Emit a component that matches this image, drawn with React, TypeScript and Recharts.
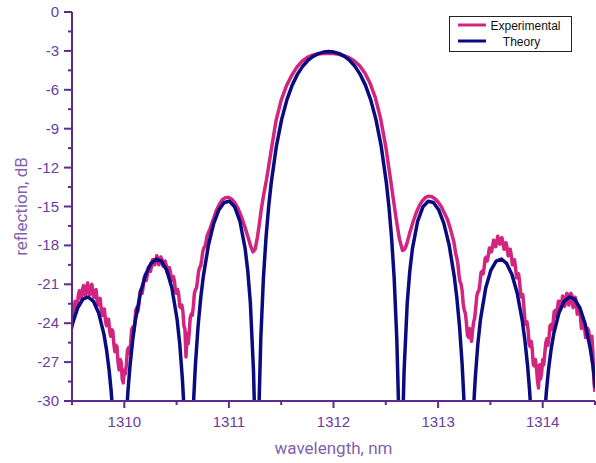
import React from 'react';
import { LineChart, Line, XAxis, YAxis, Label } from 'recharts';

const theoryWl = [
  1309.455, 1309.505, 1309.555, 1309.605, 1309.655, 1309.705, 1309.755, 1309.805, 1309.83, 1309.855,
  1309.875, 1309.895, 1309.915, 1310.015, 1310.035, 1310.055, 1310.08, 1310.105, 1310.155, 1310.205,
  1310.255, 1310.305, 1310.355, 1310.405, 1310.455, 1310.505, 1310.53, 1310.555, 1310.565, 1310.575,
  1310.585, 1310.655, 1310.665, 1310.68, 1310.705, 1310.73, 1310.755, 1310.805, 1310.855, 1310.905,
  1310.955, 1311.005, 1311.055, 1311.105, 1311.155, 1311.18, 1311.205, 1311.235, 1311.245, 1311.255,
  1311.28, 1311.29, 1311.305, 1311.33, 1311.355, 1311.38, 1311.405, 1311.455, 1311.505, 1311.555,
  1311.605, 1311.655, 1311.705, 1311.755, 1311.805, 1311.855, 1311.905, 1311.955,
  1312.005, 1312.055, 1312.105, 1312.155, 1312.205, 1312.255, 1312.305, 1312.355, 1312.405, 1312.455,
  1312.505, 1312.53, 1312.555, 1312.58, 1312.605, 1312.62, 1312.63, 1312.655, 1312.665, 1312.675,
  1312.705, 1312.73, 1312.755, 1312.805, 1312.855, 1312.905, 1312.955, 1313.005, 1313.055, 1313.105,
  1313.155, 1313.18, 1313.205, 1313.23, 1313.245, 1313.255, 1313.325, 1313.335, 1313.345, 1313.355,
  1313.38, 1313.405, 1313.455, 1313.505, 1313.555, 1313.605, 1313.655, 1313.705, 1313.755, 1313.805,
  1313.83, 1313.855, 1313.875, 1313.895, 1313.995, 1314.015, 1314.035, 1314.055, 1314.08, 1314.105,
  1314.155, 1314.205, 1314.255, 1314.305, 1314.355, 1314.405, 1314.455, 1314.48, 1314.505,
];

const theoryDb = [
  -25.96, -24.03, -22.81, -22.15, -21.98, -22.31, -23.21, -24.84, -26.04, -27.63,
  -29.29, -31.5, -34.6, -31.85, -29.23, -27.24, -25.33, -23.82, -21.63, -20.23,
  -19.39, -19.05, -19.21, -19.9, -21.29, -23.72, -25.59, -28.27, -29.7, -31.47,
  -33.8, -31.63, -29.59, -27.19, -24.26, -22.1, -20.41, -17.95, -16.3, -15.25,
  -14.69, -14.6, -15.03, -16.12, -18.23, -19.93, -22.41, -27.65, -30.74, -35.86,
  -34.8, -29.7, -25.18, -20.51, -17.38, -15.02, -13.15, -10.3, -8.26, -6.76,
  -5.64, -4.81, -4.19, -3.74, -3.42, -3.21, -3.09, -3.05,
  -3.09, -3.21, -3.42, -3.74, -4.19, -4.81, -5.64, -6.76, -8.26, -10.3,
  -13.15, -15.02, -17.38, -20.51, -25.18, -29.7, -34.8, -35.86, -30.74, -27.65,
  -22.41, -19.93, -18.23, -16.12, -15.03, -14.6, -14.69, -15.25, -16.3, -17.95,
  -20.41, -22.1, -24.26, -27.19, -29.59, -31.63, -33.8, -31.47, -29.7, -28.27,
  -25.59, -23.72, -21.29, -19.9, -19.21, -19.05, -19.39, -20.23, -21.63, -23.82,
  -25.33, -27.24, -29.23, -31.85, -34.6, -31.5, -29.29, -27.63, -26.04, -24.84,
  -23.21, -22.31, -21.98, -22.15, -22.81, -24.03, -25.96, -27.3, -29.0,
];

// Experimental: noisy left part
const expLeftWl = [
  1309.5, 1309.51, 1309.52, 1309.53, 1309.54, 1309.55, 1309.56, 1309.57, 1309.58, 1309.59,
  1309.6, 1309.61, 1309.62, 1309.63, 1309.64, 1309.65, 1309.66, 1309.67, 1309.68, 1309.69,
  1309.7, 1309.71, 1309.72, 1309.73, 1309.74, 1309.75, 1309.76, 1309.77, 1309.78, 1309.79,
  1309.8, 1309.81, 1309.82, 1309.83, 1309.84, 1309.85, 1309.86, 1309.87, 1309.88, 1309.89,
  1309.9, 1309.91, 1309.92, 1309.93, 1309.94, 1309.95, 1309.96, 1309.97, 1309.98, 1309.99,
  1310.0, 1310.01, 1310.02, 1310.03, 1310.04, 1310.05, 1310.06, 1310.07, 1310.08, 1310.09,
  1310.1, 1310.11, 1310.12, 1310.13, 1310.14, 1310.15, 1310.16, 1310.17, 1310.18, 1310.19,
  1310.2, 1310.21, 1310.22, 1310.23, 1310.24, 1310.25, 1310.26, 1310.27, 1310.28, 1310.29,
  1310.3, 1310.31, 1310.32, 1310.33, 1310.34, 1310.35, 1310.36, 1310.37, 1310.38, 1310.39,
  1310.4, 1310.41, 1310.42, 1310.43, 1310.44, 1310.45, 1310.46, 1310.47, 1310.48, 1310.49,
  1310.5, 1310.51, 1310.52, 1310.53, 1310.54, 1310.55, 1310.56, 1310.57, 1310.58, 1310.59,
  1310.6, 1310.61, 1310.62, 1310.63, 1310.64, 1310.65, 1310.66, 1310.67, 1310.68, 1310.69,
  1310.7, 1310.71, 1310.72, 1310.73, 1310.74, 1310.75, 1310.76, 1310.77, 1310.78, 1310.79,
  1310.8,
];
const expLeftDb = [
  -23.6, -23.9, -22.9, -22.3, -22.7, -22.8, -21.9, -21.5, -22.0, -22.1,
  -21.4, -21.1, -21.7, -21.9, -21.2, -20.9, -21.6, -21.8, -21.2, -21.0,
  -21.7, -22.0, -21.5, -21.4, -22.2, -22.6, -22.1, -22.1, -23.0, -23.4,
  -22.9, -22.9, -23.8, -24.2, -23.7, -23.7, -24.6, -25.0, -24.5, -24.6,
  -25.6, -26.2, -25.7, -25.8, -27.0, -27.6, -26.8, -27.0, -28.3, -28.6,
  -27.6, -27.9, -27.2, -26.1, -25.9, -26.3, -25.6, -24.5, -24.3, -24.6,
  -24.0, -23.0, -22.8, -23.1, -22.5, -21.6, -21.4, -21.7, -21.2, -20.5,
  -20.3, -20.7, -20.3, -19.7, -19.6, -20.0, -19.6, -19.1, -19.1, -19.5,
  -19.3, -18.8, -19.0, -19.5, -19.3, -18.9, -19.1, -19.6, -19.6, -19.2,
  -19.5, -20.1, -20.1, -19.7, -20.0, -20.7, -20.7, -20.4, -20.8, -21.6,
  -21.7, -21.4, -21.8, -22.7, -22.8, -22.6, -23.1, -24.2, -24.5, -26.6,
  -24.8, -25.6, -24.8, -23.6, -23.3, -23.4, -22.7, -21.7, -21.4, -21.3,
  -20.7, -20.0, -19.7, -19.6, -19.1, -18.5, -18.2, -18.1, -17.8, -17.3,
  -17.1,
];

// Experimental: smooth central part
const expMidWl = [
  1310.82, 1310.85, 1310.88, 1310.91, 1310.94, 1310.97, 1311.0, 1311.03, 1311.06, 1311.09,
  1311.12, 1311.15, 1311.18, 1311.21, 1311.23, 1311.25, 1311.27, 1311.29, 1311.31, 1311.33,
  1311.36, 1311.4, 1311.45, 1311.5, 1311.55, 1311.6, 1311.65, 1311.7, 1311.75, 1311.8,
  1311.85, 1311.9, 1311.95, 1312.0, 1312.05, 1312.1, 1312.15, 1312.2, 1312.25, 1312.3,
  1312.35, 1312.4, 1312.45, 1312.5, 1312.54, 1312.57, 1312.6, 1312.63, 1312.66, 1312.68,
  1312.7, 1312.73, 1312.76, 1312.79, 1312.82, 1312.85, 1312.88, 1312.91, 1312.94, 1312.97,
  1313.0, 1313.03, 1313.06, 1313.09, 1313.12, 1313.15,
];
const expMidDb = [
  -16.7, -16.0, -15.3, -14.8, -14.45, -14.3, -14.3, -14.45, -14.75, -15.2,
  -15.8, -16.5, -17.3, -18.1, -18.5, -18.3, -17.5, -16.4, -15.2, -14.2,
  -12.9, -10.9, -8.4, -6.8, -5.7, -4.9, -4.25, -3.8, -3.5, -3.33,
  -3.24, -3.2, -3.19, -3.2, -3.26, -3.37, -3.52, -3.78, -4.15, -4.7,
  -5.5, -6.6, -8.2, -10.4, -12.6, -14.3, -16.0, -17.5, -18.4, -18.3,
  -17.9, -17.0, -16.2, -15.5, -14.95, -14.55, -14.3, -14.2, -14.25, -14.4,
  -14.65, -15.0, -15.5, -16.0, -16.8, -17.7,
];

// Experimental: noisy right part
const expRightWl = [
  1313.16, 1313.17, 1313.18, 1313.19,
  1313.2, 1313.21, 1313.22, 1313.23, 1313.24, 1313.25, 1313.26, 1313.27, 1313.28, 1313.29,
  1313.3, 1313.31, 1313.32, 1313.33, 1313.34, 1313.35, 1313.36, 1313.37, 1313.38, 1313.39,
  1313.4, 1313.41, 1313.42, 1313.43, 1313.44, 1313.45, 1313.46, 1313.47, 1313.48, 1313.49,
  1313.5, 1313.51, 1313.52, 1313.53, 1313.54, 1313.55, 1313.56, 1313.57, 1313.58, 1313.59,
  1313.6, 1313.61, 1313.62, 1313.63, 1313.64, 1313.65, 1313.66, 1313.67, 1313.68, 1313.69,
  1313.7, 1313.71, 1313.72, 1313.73, 1313.74, 1313.75, 1313.76, 1313.77, 1313.78, 1313.79,
  1313.8, 1313.81, 1313.82, 1313.83, 1313.84, 1313.85, 1313.86, 1313.87, 1313.88, 1313.89,
  1313.9, 1313.91, 1313.92, 1313.93, 1313.94, 1313.95, 1313.96, 1313.97, 1313.98, 1313.99,
  1314.0, 1314.01, 1314.02, 1314.03, 1314.04, 1314.05, 1314.06, 1314.07, 1314.08, 1314.09,
  1314.1, 1314.11, 1314.12, 1314.13, 1314.14, 1314.15, 1314.16, 1314.17, 1314.18, 1314.19,
  1314.2, 1314.21, 1314.22, 1314.23, 1314.24, 1314.25, 1314.26, 1314.27, 1314.28, 1314.29,
  1314.3, 1314.31, 1314.32, 1314.33, 1314.34, 1314.35, 1314.36, 1314.37, 1314.38, 1314.39,
  1314.4, 1314.41, 1314.42, 1314.43, 1314.44, 1314.45, 1314.46, 1314.47, 1314.48, 1314.49,
  1314.5,
];
const expRightDb = [
  -18.2, -18.7, -19.0, -19.5,
  -20.3, -20.8, -21.0, -21.5, -22.5, -23.0, -23.2, -23.9, -24.9, -25.1,
  -24.4, -25.0, -25.4, -24.5, -23.9, -23.6, -22.8, -21.9, -21.6, -21.5,
  -20.9, -20.1, -20.0, -20.2, -19.7, -19.0, -18.9, -19.2, -18.8, -18.2,
  -18.2, -18.5, -18.1, -17.6, -17.7, -18.1, -17.8, -17.3, -17.5, -17.9,
  -17.8, -17.4, -17.8, -18.3, -18.2, -17.8, -18.2, -18.8, -18.7, -18.3,
  -18.8, -19.5, -19.4, -19.1, -19.7, -20.5, -20.4, -20.2, -20.9, -21.8,
  -22.0, -21.8, -22.7, -23.8, -24.1, -23.9, -24.5, -25.6, -25.8, -25.4,
  -26.0, -27.2, -27.3, -26.8, -27.4, -28.4, -29.0, -27.2, -28.3, -27.8,
  -26.8, -27.2, -26.3, -25.5, -25.2, -25.7, -25.1, -24.2, -24.1, -24.5,
  -23.9, -23.1, -23.0, -23.5, -23.0, -22.3, -22.3, -22.9, -22.6, -21.9,
  -22.0, -22.7, -22.4, -21.7, -21.8, -22.6, -22.2, -21.7, -21.9, -22.8,
  -22.5, -22.0, -22.3, -23.3, -23.2, -22.9, -23.4, -24.4, -24.3, -23.9,
  -24.3, -25.1, -24.9, -24.4, -24.6, -25.5, -25.3, -25.0, -26.3, -28.6,
  -29.3,
];

const xTicks = [1309.5, 1310, 1310.5, 1311, 1311.5, 1312, 1312.5, 1313, 1313.5, 1314, 1314.5];
const yTicks = [-30, -28.5, -27, -25.5, -24, -22.5, -21, -19.5, -18, -16.5, -15, -13.5, -12, -10.5, -9, -7.5, -6, -4.5, -3, -1.5, 0];
const seriesNames = ['Experimental', 'Theory'];

const expWl = [...expLeftWl, ...expMidWl, ...expRightWl];
const expDb = [...expLeftDb, ...expMidDb, ...expRightDb];
const theoryData = theoryWl.map((wl, i) => ({ wl, db: theoryDb[i] }));
const expData = expWl.map((wl, i) => ({ wl, db: expDb[i] }));

const AXIS = '#5d2a8d';
const TICK_TXT = '#6b3d9e';
const TITLE_TXT = '#8262ad';
const EXP = '#d1257f';
const THEO = '#0b0b80';

const XTick = (props: any) => {
  const { x, y, payload } = props;
  const major = Number.isInteger(payload.value);
  return (
    <g>
      <line x1={x} x2={x} y1={y} y2={y + (major ? 7 : 4)} stroke={AXIS} strokeWidth={2} />
      {major && (
        <text x={x} y={y + 26} textAnchor="middle" fill={TICK_TXT} fontSize={15} fontFamily="'Liberation Sans', Arial, sans-serif">
          {payload.value}
        </text>
      )}
    </g>
  );
};

const YTick = (props: any) => {
  const { x, y, payload } = props;
  const major = payload.value % 3 === 0;
  return (
    <g>
      <line x1={x} x2={x - (major ? 8 : 4)} y1={y} y2={y} stroke={AXIS} strokeWidth={2} />
      {major && (
        <text x={x - 13} y={y + 5} textAnchor="end" fill={TICK_TXT} fontSize={15} fontFamily="'Liberation Sans', Arial, sans-serif">
          {payload.value}
        </text>
      )}
    </g>
  );
};

export default function App() {
  return (
    <div style={{ position: 'absolute', left: 0, top: 0, width: 596, height: 463, background: '#fff' }}>
      <LineChart width={596} height={463} margin={{ top: 12, right: 1, bottom: 0, left: 0 }}>
        <XAxis
          dataKey="wl"
          type="number"
          domain={[1309.5, 1314.5]}
          ticks={xTicks}
          allowDataOverflow
          height={62}
          tickSize={0}
          tickMargin={0}
          tickLine={false}
          tick={<XTick />}
          interval={0}
          axisLine={{ stroke: AXIS, strokeWidth: 2 }}
        >
          <Label
            content={(p: any) => {
              const vb = p.viewBox;
              return (
                <text x={vb.x + vb.width / 2} y={vb.y + 53} textAnchor="middle" fill={TITLE_TXT} fontSize={17} fontFamily="Roboto, sans-serif">
                  wavelength, nm
                </text>
              );
            }}
          />
        </XAxis>
        <YAxis
          type="number"
          domain={[-30, 0]}
          ticks={yTicks}
          allowDataOverflow
          width={72}
          tickSize={0}
          tickMargin={0}
          tickLine={false}
          tick={<YTick />}
          interval={0}
          axisLine={{ stroke: AXIS, strokeWidth: 2 }}
        >
          <Label
            content={(p: any) => {
              const vb = p.viewBox;
              const cx = vb.x + 27;
              const cy = vb.y + vb.height / 2;
              return (
                <text x={cx} y={cy} transform={`rotate(-90 ${cx} ${cy})`} textAnchor="middle" fill={TITLE_TXT} fontSize={17} fontFamily="Roboto, sans-serif">
                  reflection, dB
                </text>
              );
            }}
          />
        </YAxis>
        <Line data={expData} dataKey="db" stroke={EXP} strokeWidth={3.5} dot={false} isAnimationActive={false} strokeLinejoin="round" name={seriesNames[0]} />
        <Line data={theoryData} dataKey="db" stroke={THEO} strokeWidth={3.5} dot={false} isAnimationActive={false} strokeLinejoin="round" name={seriesNames[1]} />
      </LineChart>
      <svg width={596} height={463} style={{ position: 'absolute', left: 0, top: 0, pointerEvents: 'none' }}>
        <rect x={449.5} y={16.5} width={122} height={35} fill="#fff" stroke="#222" strokeWidth={1} />
        <line x1={458} x2={486} y1={25} y2={25} stroke={EXP} strokeWidth={3} />
        <text x={525.5} y={29.5} textAnchor="middle" fontSize={12} fill="#111" fontFamily="'Liberation Sans', Arial, sans-serif">{seriesNames[0]}</text>
        <line x1={458} x2={486} y1={41} y2={41} stroke={THEO} strokeWidth={3} />
        <text x={521.5} y={45.5} textAnchor="middle" fontSize={12} fill="#111" fontFamily="'Liberation Sans', Arial, sans-serif">{seriesNames[1]}</text>
      </svg>
    </div>
  );
}
